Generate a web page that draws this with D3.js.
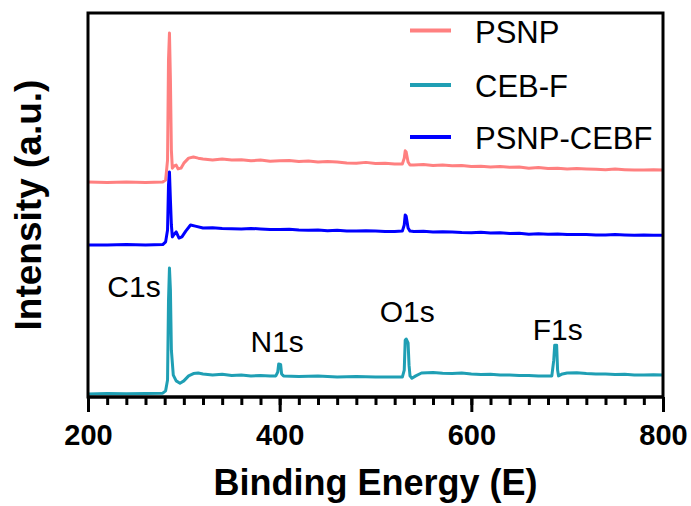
<!DOCTYPE html>
<html>
<head>
<meta charset="utf-8">
<title>XPS survey</title>
<script src="https://d3js.org/d3.v7.min.js"></script>
<style>
  body { margin: 0; background: #fff; }
  text { font-family: "Liberation Sans", Arial, sans-serif; }
</style>
</head>
<body>
<script>
// binding energy (eV) and intensity (a.u.)
var psnpE = [200,220,240,260,278,281,283,284,285,286,287,288,290,292,294,297,300,305,310,315,320,330,340,350,360,370,380,390,400,410,420,430,440,450,460,470,480,490,500,510,520,528,530,531,532,534,536,540,550,560,570,580,590,600,610,620,630,640,650,660,670,680,690,700,710,720,730,740,750,760,770,780,790,800];
var psnpI = [56.0,55.85,56.0,55.85,56.0,56.5,61.7,87.8,94.8,82.6,64.3,59.6,60.2,60.4,59.4,59.6,60.9,62.2,62.5,62.2,62.0,61.7,61.95,61.7,61.8,61.5,61.7,61.4,61.5,61.6,61.3,61.45,61.2,61.35,61.2,60.95,60.9,61.1,60.8,60.9,60.7,60.7,62.2,64.1,63.8,61.2,60.4,60.4,60.55,60.3,60.4,60.2,60.3,60.0,60.1,59.9,60.0,59.8,59.9,59.6,59.75,59.5,59.6,59.4,59.5,59.4,59.3,59.2,59.35,59.2,59.1,59.1,59.2,59.1];

var cebE = [200,220,240,260,278,281,283,284,285,286,287,289,292,296,300,305,310,315,320,330,340,350,360,370,380,390,396,398,399,401,402,404,420,440,460,480,500,520,528,530,531,532,534,535,536,538,542,548,560,570,580,590,600,610,620,630,640,650,660,670,680,684,686,687,689,690,691,695,700,710,720,730,740,750,760,770,780,790,800];
var cebI = [0.8,0.9,0.85,0.9,1.0,1.6,4.4,25,33.6,27.9,12.2,5.7,4.2,3.6,4.2,5.5,6.1,6.25,6.0,5.7,5.9,5.6,5.7,5.5,5.6,5.5,5.5,6.5,8.6,8.5,6.0,5.5,5.35,5.5,5.2,5.35,5.2,5.2,5.2,7.0,14.8,15.1,14.1,8.3,5.5,4.9,5.5,6.25,6.4,6.2,6.1,6.25,6.0,5.85,5.9,5.75,5.7,5.6,5.6,5.45,5.5,5.5,9.6,13.5,13.5,7.0,5.5,6.0,6.25,6.3,6.1,6.0,6.0,5.85,5.9,5.75,5.7,5.8,5.7];

var mixE = [200,220,240,260,278,281,283,284,285,286,287,288,290,292,295,298,302,307,312,320,330,340,350,360,370,380,390,400,410,420,430,440,450,460,470,480,490,500,510,520,528,530,531,532,534,536,540,550,560,570,580,590,600,610,620,630,640,650,660,670,680,690,700,710,720,730,740,750,760,770,780,790,800];
var mixI = [39.6,39.6,39.7,39.6,39.7,40.4,43.5,55.2,58.6,51.3,44.8,41.7,42.4,43.0,41.4,41.7,43.2,44.8,44.5,44.0,44.1,43.9,43.8,43.75,43.9,43.75,43.6,43.6,43.7,43.5,43.4,43.5,43.3,43.4,43.25,43.2,43.3,43.2,43.1,43.1,43.2,44.8,47.4,47.1,44.0,43.2,43.1,43.15,43.0,43.05,43.0,42.85,42.8,42.9,42.7,42.75,42.6,42.65,42.4,42.5,42.4,42.45,42.3,42.35,42.3,42.2,42.2,42.3,42.2,42.1,42.2,42.15,42.1];

var seriesNames = ["PSNP", "CEB-F", "PSNP-CEBF"];
var seriesColors = ["#ff8080", "#1f9fb4", "#0000ff"];

var xTicks = [200, 400, 600, 800];
var peakNames = ["C1s", "N1s", "O1s", "F1s"];
var peakE = [284.5, 399.5, 532, 688.5];
var peakI = [33.6, 8.6, 15.1, 13.5];

var W = 691, H = 506;
var m = {left: 88, right: 28, top: 13, bottom: 109};
var iw = W - m.left - m.right, ih = H - m.top - m.bottom;

var svg = d3.select("body").append("svg")
    .attr("width", W)
    .attr("height", H);

var x = d3.scaleLinear().domain([200, 800]).range([m.left, m.left + iw]);
var y = d3.scaleLinear().domain([0, 100]).range([m.top + ih, m.top]);

var data = [
  d3.zip(psnpE, psnpI),
  d3.zip(cebE, cebI),
  d3.zip(mixE, mixI)
];

var line = d3.line()
    .x(function(d) { return x(d[0]); })
    .y(function(d) { return y(d[1]); });

svg.selectAll("path.spec")
  .data(data)
  .enter()
  .append("path")
    .attr("class", "spec")
    .attr("d", line)
    .attr("fill", "none")
    .attr("stroke", function(d, i) { return seriesColors[i]; })
    .attr("stroke-width", 3)
    .attr("stroke-linejoin", "round");

// frame
svg.append("rect")
    .attr("x", m.left).attr("y", m.top)
    .attr("width", iw).attr("height", ih)
    .attr("fill", "none")
    .attr("stroke", "#000")
    .attr("stroke-width", 3);

// bottom axis, minor then major ticks
var minor = d3.range(200, 801, 20);
svg.append("g")
    .attr("transform", "translate(0," + (m.top + ih) + ")")
    .call(d3.axisBottom(x).tickValues(minor).tickSize(8).tickFormat(""))
    .call(function(g) { g.select(".domain").remove(); })
    .selectAll("line").attr("stroke-width", 3);

var ax = svg.append("g")
    .attr("transform", "translate(0," + (m.top + ih) + ")")
    .call(d3.axisBottom(x).tickValues(xTicks).tickSize(15).tickPadding(12).tickFormat(d3.format("d")));
ax.select(".domain").attr("stroke-width", 3).attr("d", "M" + m.left + ",0H" + (m.left + iw));
ax.selectAll("line").attr("stroke-width", 3);
ax.selectAll("text")
    .attr("font-family", "'Liberation Sans', Arial, sans-serif")
    .attr("font-size", 29)
    .attr("font-weight", "bold")
    .attr("fill", "#000");

// axis titles
svg.append("text")
    .attr("x", m.left + iw / 2)
    .attr("y", 495)
    .attr("text-anchor", "middle")
    .attr("font-size", 36)
    .attr("font-weight", "bold")
    .text("Binding Energy (E)");

svg.append("text")
    .attr("transform", "translate(41," + (m.top + ih / 2) + ") rotate(-90)")
    .attr("text-anchor", "middle")
    .attr("font-size", 37)
    .attr("font-weight", "bold")
    .text("Intensity (a.u.)");

// peak labels
var labelDx = [-35, -2, 1, 1.5];
var labelDy = [-29, 12, 17, 5];
svg.selectAll("text.peak")
  .data(peakNames)
  .enter()
  .append("text")
    .attr("class", "peak")
    .attr("x", function(d, i) { return x(peakE[i]) + labelDx[i]; })
    .attr("y", function(d, i) { return y(peakI[i]) - labelDy[i]; })
    .attr("text-anchor", "middle")
    .attr("font-size", 30)
    .text(function(d) { return d; });

// legend
var lg = svg.append("g");
var legY = [30.5, 85, 137];
seriesNames.forEach(function(name, i) {
  lg.append("line")
      .attr("x1", 410).attr("x2", 451)
      .attr("y1", legY[i]).attr("y2", legY[i])
      .attr("stroke", seriesColors[i])
      .attr("stroke-width", 4);
  lg.append("text")
      .attr("x", 475)
      .attr("y", legY[i] + 12)
      .attr("font-size", 31)
      .text(name);
});
</script>
</body>
</html>
